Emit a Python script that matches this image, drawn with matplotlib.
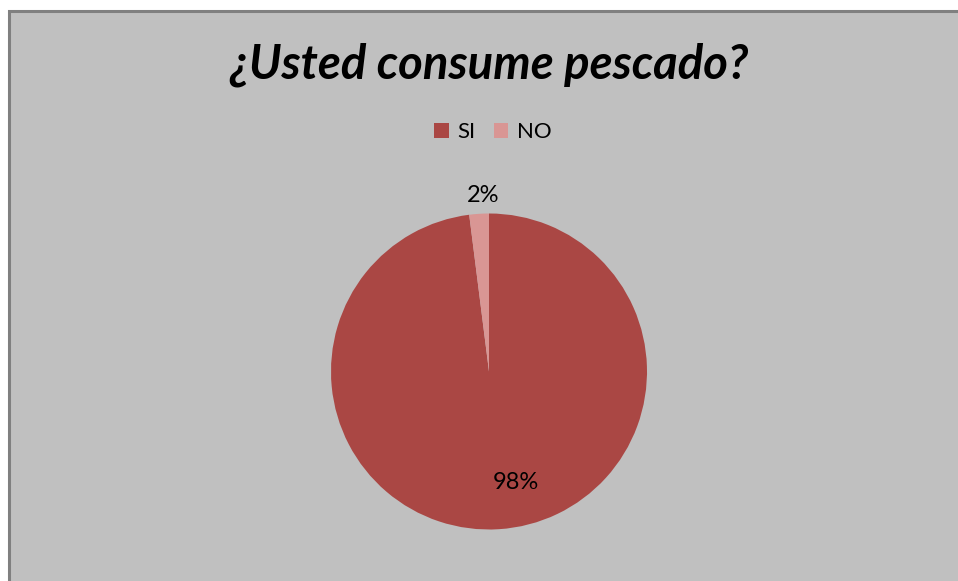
import matplotlib.pyplot as plt
from matplotlib.patches import Rectangle

labels = ["SI", "NO"]
values = [98, 2]
colors = ["#AA4744", "#D99694"]
title = "¿Usted consume pescado?"

plt.rcParams['font.family'] = ['Lato', 'DejaVu Sans']

W, H = 958, 581
fig = plt.figure(figsize=(W / 100, H / 100), dpi=100)
fig.patch.set_facecolor('white')

# gray chart area with darker border, cut off at right/bottom like the source
fig.patches.append(Rectangle((9 / W, -0.01), 1.02, 1 - 11 / H + 0.01,
                             transform=fig.transFigure, facecolor='#C0C0C0',
                             edgecolor='#808080', linewidth=2.2, zorder=-5))

ax = fig.add_axes([331 / W, (H - 529.5) / H, 316 / W, 316 / H])
ax.set_zorder(2)
wedges, _ = ax.pie(values, colors=colors, startangle=90, counterclock=False,
                   radius=1, wedgeprops=dict(linewidth=0))
ax.set_xlim(-1, 1)
ax.set_ylim(-1, 1)
ax.set_aspect('equal')
ax.axis('off')

ax.text(0.17, -0.705, f"{values[0]}%", ha='center', va='center', fontsize=17, color='black')
ax.text(-0.035, 1.115, f"{values[1]}%", ha='center', va='center', fontsize=17, color='black',
        clip_on=False)

fig.text(489 / W, 1 - 65 / H, title, ha='center', va='center', fontsize=34,
         fontweight='bold', fontstyle='italic')

fig.legend(wedges, labels, loc='center', bbox_to_anchor=(493 / W, 1 - 132 / H), ncol=2,
           frameon=False, fontsize=16, handlelength=0.65, handleheight=0.65,
           handletextpad=0.4, columnspacing=0.8)

fig.savefig("out.png", dpi=100)
